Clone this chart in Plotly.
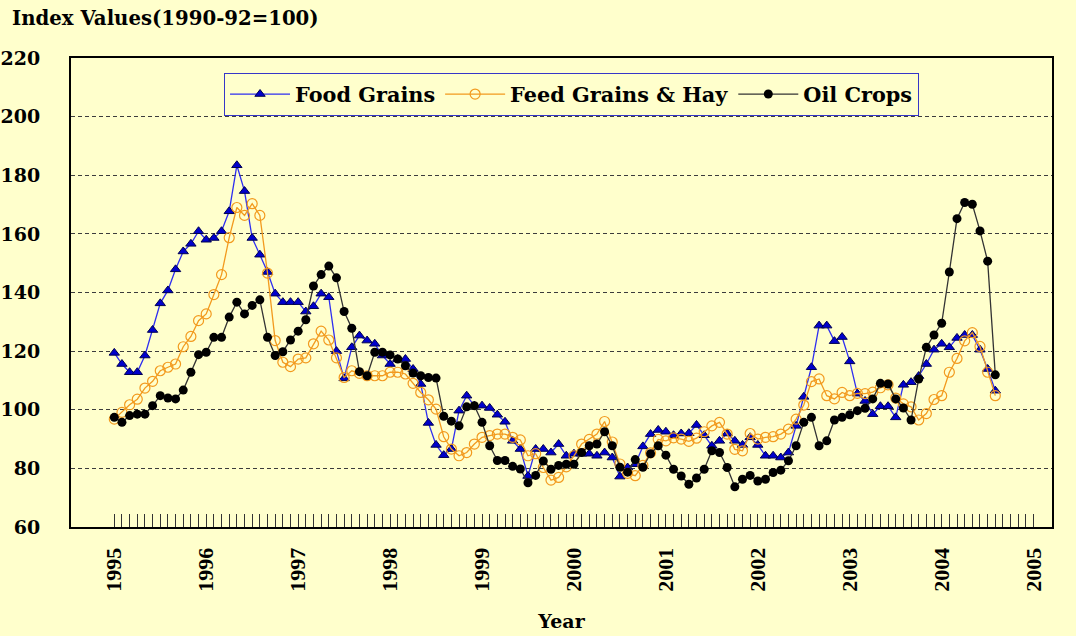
import plotly.graph_objects as go

# monthly index, Jan 1995 = 0
months = list(range(116))

food_grains = [
    119.4, 115.6, 112.8, 112.8, 118.5, 127.2, 136.3, 140.7, 147.9, 154.0, 156.6, 160.9,
    158.0, 158.6, 160.9, 167.7, 183.4, 174.6, 158.6, 152.9, 147.0, 139.6, 136.7, 136.7,
    136.7, 133.5, 135.3, 139.6, 138.4, 120.0, 110.7, 121.3, 125.3, 123.6, 122.5, 118.5,
    115.6, 117.3, 117.3, 113.9, 108.8, 95.5, 88.0, 84.5, 86.6, 99.7, 104.8, 101.4,
    101.4, 100.6, 98.3, 95.9, 89.4, 86.6, 77.4, 86.6, 86.6, 85.4, 88.3, 84.3,
    85.0, 85.0, 85.0, 84.3, 85.4, 83.7, 77.2, 80.3, 81.4, 87.5, 91.7, 93.1,
    92.5, 91.3, 91.9, 92.0, 94.8, 91.3, 87.7, 89.4, 91.9, 89.4, 88.0, 90.6,
    88.0, 84.3, 84.3, 83.7, 85.4, 94.5, 104.4, 114.5, 128.7, 128.7, 123.4, 124.8,
    116.5, 105.5, 103.0, 98.5, 101.2, 101.2, 97.4, 108.5, 109.4, 111.5, 115.6, 120.5,
    122.5, 121.3, 124.5, 125.5, 125.5, 120.5, 113.9, 106.5,
]

feed_grains_hay = [
    96.8, 99.1, 101.7, 103.6, 107.4, 109.7, 113.3, 114.5, 115.6, 121.5, 125.0, 130.4,
    132.7, 139.3, 146.1, 158.7, 169.0, 166.3, 170.3, 166.3, 146.6, 123.6, 116.2, 114.7,
    117.3, 117.7, 122.5, 126.8, 123.8, 117.7, 111.0, 113.3, 112.4, 111.6, 111.6, 111.6,
    112.8, 112.8, 112.2, 109.0, 105.9, 103.4, 100.2, 90.8, 86.6, 84.3, 85.4, 88.3,
    90.6, 91.2, 91.7, 91.7, 90.6, 89.7, 84.3, 85.0, 80.3, 76.0, 76.9, 80.5,
    84.3, 88.3, 89.9, 91.7, 96.0, 89.0, 81.5, 78.3, 77.5, 81.0, 85.3, 89.9,
    89.4, 90.4, 90.0, 89.2, 90.3, 92.5, 94.5, 95.7, 91.7, 86.5, 86.0, 91.9,
    90.0, 90.6, 90.8, 91.7, 93.4, 96.8, 101.6, 109.6, 110.5, 104.8, 103.7, 105.9,
    104.8, 105.6, 105.5, 106.0, 107.5, 108.5, 104.0, 102.0, 101.0, 96.5, 98.7, 103.5,
    104.8, 112.8, 117.5, 123.5, 126.3, 121.6, 112.8, 104.8,
]

oil_crops = [
    97.4, 95.7, 98.0, 98.5, 98.5, 101.4, 104.8, 104.0, 103.7, 106.7, 112.8, 118.8,
    119.6, 124.7, 124.7, 131.6, 136.7, 132.7, 135.6, 137.5, 124.7, 118.5, 119.8, 123.8,
    126.8, 130.7, 142.2, 146.1, 149.0, 145.0, 133.5, 127.8, 113.0, 111.6, 119.6, 119.6,
    118.7, 117.3, 115.0, 112.5, 111.6, 111.0, 110.8, 97.8, 96.1, 94.5, 101.0, 101.4,
    95.7, 87.7, 82.7, 82.7, 80.7, 79.8, 75.1, 77.6, 82.5, 79.7, 81.0, 81.4,
    81.4, 85.4, 87.7, 88.3, 92.5, 87.7, 80.4, 78.7, 83.0, 80.4, 85.0, 87.7,
    84.5, 79.7, 77.4, 74.6, 76.7, 79.7, 86.0, 85.4, 80.3, 73.7, 76.3, 77.6,
    75.7, 76.3, 78.6, 79.4, 82.6, 87.7, 95.7, 97.4, 87.7, 89.4, 96.5, 97.4,
    98.3, 99.7, 100.5, 103.7, 109.0, 108.8, 103.7, 100.6, 96.5, 110.5, 121.3, 125.5,
    129.5, 147.0, 165.2, 170.7, 170.1, 161.0, 150.7, 111.9,
]

years = [str(y) for y in range(1995, 2006)]
year_pos = [12 * k for k in range(len(years))]

bg = "#FFFFCC"
serif = "DejaVu Serif"

fig = go.Figure()

fig.add_trace(go.Scatter(
    x=months, y=food_grains, name="Food Grains", mode="lines+markers",
    line=dict(color="#2E2EF0", width=1.3),
    marker=dict(symbol="triangle-up", size=9, color="#0000CC",
                line=dict(color="#000050", width=1)),
))
fig.add_trace(go.Scatter(
    x=months, y=feed_grains_hay, name="Feed Grains & Hay", mode="lines+markers",
    line=dict(color="#F29A1E", width=1.3),
    marker=dict(symbol="circle-open", size=10, color="#F29A1E", line=dict(width=1.2)),
))
fig.add_trace(go.Scatter(
    x=months, y=oil_crops, name="Oil Crops", mode="lines+markers",
    line=dict(color="#333333", width=1.3),
    marker=dict(symbol="circle", size=9, color="#000000"),
))

fig.update_layout(
    width=1076, height=636,
    paper_bgcolor=bg, plot_bgcolor=bg,
    margin=dict(l=71, r=24, t=58, b=109),
    font=dict(family=serif, color="#000000"),
    legend=dict(
        orientation="h", x=0.156, y=0.968, xanchor="left", yanchor="top",
        bgcolor=bg, bordercolor="#3636C8", borderwidth=1,
        itemwidth=60,
        font=dict(family=serif, size=20.8, weight="bold"),
    ),
    annotations=[dict(
        text="Index Values(1990-92=100)", xref="paper", yref="paper",
        x=-0.062, y=1.085, xanchor="left", yanchor="middle", showarrow=False,
        font=dict(family=serif, size=19.7, weight="bold"),
    )],
)

fig.update_xaxes(
    range=[-5.65, 122.4], automargin=False,
    tickmode="array", tickvals=year_pos, ticktext=years, tickangle=-90,
    ticks="inside", ticklen=13, tickcolor="#333333", tickwidth=1,
    minor=dict(tickvals=list(range(121)), ticks="inside", ticklen=13,
               tickcolor="#333333", tickwidth=1),
    tickfont=dict(family="Liberation Serif", size=22, weight="bold"),
    ticklabelstandoff=10,
    showgrid=False, zeroline=False,
    showline=True, linecolor="#000000", linewidth=2, mirror=True,
    title=dict(text="Year", standoff=24,
               font=dict(family=serif, size=19, weight="bold")),
)

fig.update_yaxes(
    range=[60, 220], dtick=20, tick0=60, automargin=False,
    tickfont=dict(family=serif, size=19, weight="bold"),
    ticklabelstandoff=25,
    showgrid=True, gridcolor="#3C3C3C", gridwidth=1, griddash="4px,3px",
    zeroline=False,
    showline=True, linecolor="#000000", linewidth=2, mirror=True,
)

# drop the default page margin so the figure sits at the window's corner
fig.write_html("out.html", config={"displayModeBar": False},
               post_script="document.body.style.margin='0';")
